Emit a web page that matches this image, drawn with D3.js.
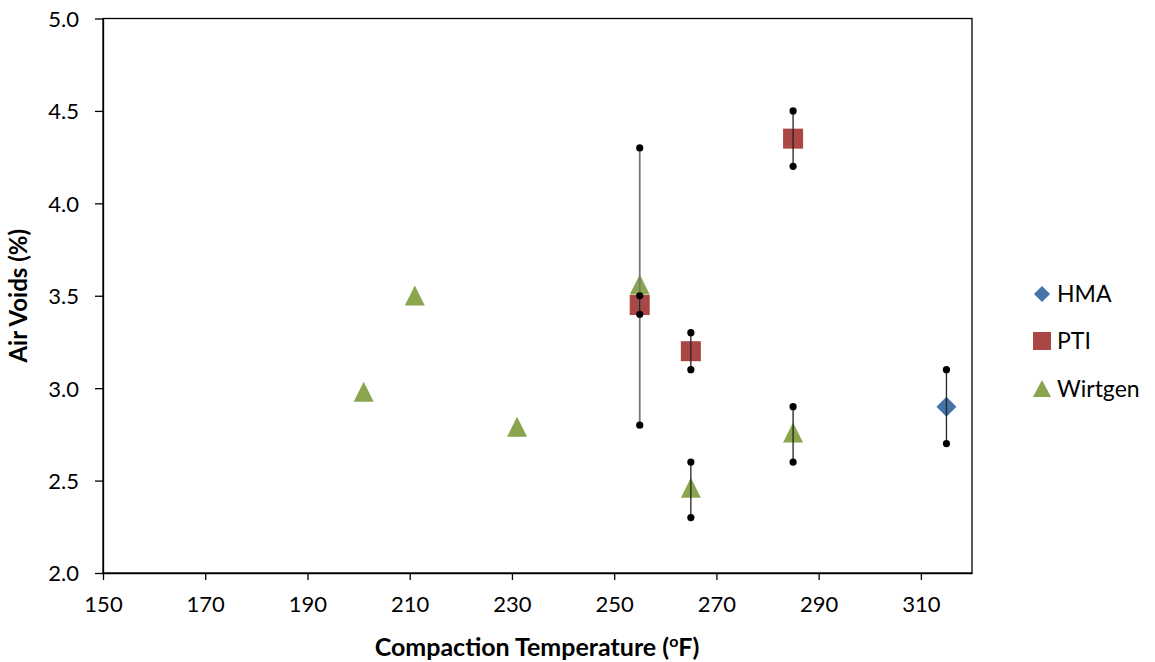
<!DOCTYPE html>
<html><head><meta charset="utf-8">
<script src="https://cdn.jsdelivr.net/npm/d3@7"></script>
<style>body{margin:0;background:#fff}text{font-family:Lato,"Open Sans",sans-serif}</style>
</head><body><svg id="c" width="1155" height="662"></svg>
<script>
const xTicks=[150,170,190,210,230,250,270,290,310];
const yTicks=[2.0,2.5,3.0,3.5,4.0,4.5,5.0];
const seriesNames=["HMA","PTI","Wirtgen"];
const seriesColors=["#4572A7","#AA4643","#89A54E"];
const hmaX=[315], hmaY=[2.9];
const ptiX=[255,265,285], ptiY=[3.45,3.2,4.35];
const wirX=[201,211,231,255,265,285], wirY=[2.97,3.49,2.78,3.55,2.45,2.75];
// error ranges
const errX=[255,265,285,255,265,285,315];
const errLo=[2.8,2.3,2.6,3.4,3.1,4.2,2.7];
const errHi=[4.3,2.6,2.9,3.5,3.3,4.5,3.1];
const errGrey=[true,false,false,false,false,false,false];

const svg=d3.select("#c");
const L=103,R=972,T=18.5,B=573;
const x=d3.scaleLinear().domain([150,320]).range([L,R]);
const y=d3.scaleLinear().domain([2,5]).range([B,T]);

svg.append("rect").attr("x",L).attr("y",T).attr("width",R-L).attr("height",B-T).attr("fill","none").attr("stroke","#000").attr("stroke-width",1.3);

const xa=svg.append("g").attr("transform",`translate(0,${B})`).call(d3.axisBottom(x).tickValues(xTicks).tickSize(7).tickSizeOuter(0).tickFormat(d3.format("d")));
const ya=svg.append("g").attr("transform",`translate(${L},0)`).call(d3.axisLeft(y).tickValues(yTicks).tickSize(8).tickSizeOuter(0).tickFormat(d3.format(".1f")));
[xa,ya].forEach(a=>{a.select(".domain").attr("stroke","#000").attr("stroke-width",1.3);a.selectAll(".tick line").attr("stroke","#000").attr("stroke-width",1.3);a.selectAll("text").attr("font-size",22).attr("fill","#000");});
xa.selectAll("text").attr("y",23).attr("dy","0.71em");
ya.selectAll("text").attr("x",-24).attr("dy","0.36em");

const g=svg.append("g");
hmaX.forEach((v,i)=>g.append("path").attr("d",d3.symbol().type(d3.symbolSquare).size(200)()).attr("transform",`translate(${x(v)},${y(hmaY[i])}) rotate(45)`).attr("fill",seriesColors[0]));
ptiX.forEach((v,i)=>g.append("rect").attr("x",x(v)-10).attr("y",y(ptiY[i])-10).attr("width",20).attr("height",20).attr("fill",seriesColors[1]));
wirX.forEach((v,i)=>{const cx=x(v),cy=y(wirY[i]);g.append("path").attr("d",`M${cx},${cy-12}L${cx+10},${cy+8}L${cx-10},${cy+8}Z`).attr("fill",seriesColors[2]);});

const eg2=svg.append("g");
errX.forEach((v,i)=>{
  eg2.append("line").attr("x1",x(v)).attr("x2",x(v)).attr("y1",y(errLo[i])).attr("y2",y(errHi[i]))
    .attr("stroke",errGrey[i]?"#777":"#222").attr("stroke-width",errGrey[i]?1.8:1.3);
  [errLo[i],errHi[i]].forEach(e=>eg2.append("circle").attr("cx",x(v)).attr("cy",y(e)).attr("r",3.6).attr("fill","#000"));
});

const lg=svg.append("g");
const ly=[294,341,389];
seriesNames.forEach((n,i)=>{
  const cx=1042, cy=ly[i];
  if(i===0) lg.append("path").attr("d",d3.symbol().type(d3.symbolSquare).size(130)()).attr("transform",`translate(${cx},${cy}) rotate(45)`).attr("fill",seriesColors[0]);
  else if(i===1) lg.append("rect").attr("x",cx-9).attr("y",cy-9).attr("width",18).attr("height",18).attr("fill",seriesColors[1]);
  else lg.append("path").attr("d",`M${cx},${cy-9}L${cx+9},${cy+8}L${cx-9},${cy+8}Z`).attr("fill",seriesColors[2]);
  lg.append("text").attr("x",1057).attr("y",cy).attr("dy","0.36em").attr("font-size",23).attr("fill","#000").text(n);
});

svg.append("text").attr("transform",`translate(27,${(T+B)/2}) rotate(-90)`).attr("text-anchor","middle").attr("font-size",24).attr("font-weight","bold").text("Air Voids (%)");
const xt=svg.append("text").attr("x",537).attr("y",656).attr("text-anchor","middle").attr("font-size",25).attr("font-weight","bold");
xt.append("tspan").text("Compaction Temperature (");
xt.append("tspan").attr("font-size",16).attr("dy",-9).text("o");
xt.append("tspan").attr("dy",9).text("F)");
</script></body></html>
